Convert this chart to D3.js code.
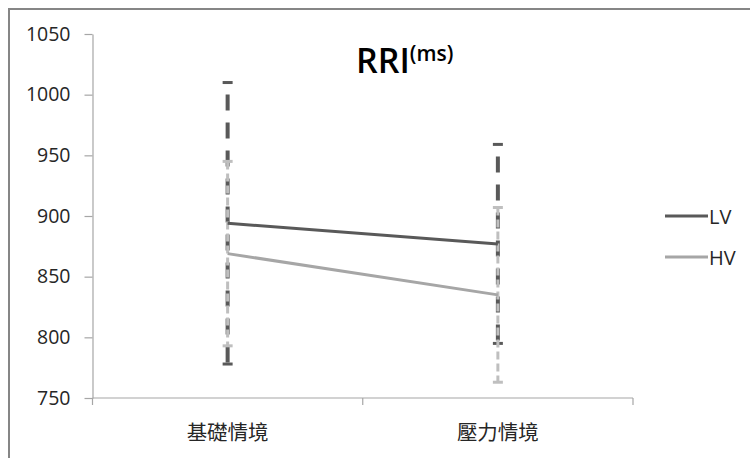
<!DOCTYPE html>
<html><head><meta charset="utf-8">
<script src="https://cdn.jsdelivr.net/npm/d3@7"></script>
<style>body{margin:0;background:#fff;} svg{display:block;}</style>
</head><body>
<svg id="c" width="750" height="458"></svg>
<script>
const categories = ["基礎情境", "壓力情境"];
const seriesNames = ["LV", "HV"];
const lvMeans = [894, 877];
const lvErr = [116, 82];
const hvMeans = [869, 835];
const hvErr = [76, 72];
const yTicks = [750, 800, 850, 900, 950, 1000, 1050];

const svg = d3.select("#c");
const font = "'Open Sans', 'Noto Sans CJK TC', sans-serif";
const plotL = 92.5, plotR = 633, plotT = 34, plotB = 398;

// outer border
svg.append("rect").attr("x", 9).attr("y", 9).attr("width", 760).attr("height", 470)
  .attr("fill", "none").attr("stroke", "#868686").attr("stroke-width", 2);

const x = d3.scaleBand().domain(categories).range([plotL, plotR]);
const y = d3.scaleLinear().domain([750, 1050]).range([plotB, plotT]);

// y axis
const yAxis = svg.append("g").attr("transform", `translate(${plotL},0)`)
  .call(d3.axisLeft(y).tickValues(yTicks).tickFormat(d3.format("d")).tickSize(8).tickPadding(14).tickSizeOuter(0));
yAxis.select(".domain").attr("stroke", "#a6a6a6").attr("stroke-width", 1.2);
yAxis.selectAll(".tick line").attr("stroke", "#a6a6a6").attr("stroke-width", 1.2);
yAxis.selectAll(".tick text").attr("font-family", font).attr("font-size", 19.5).attr("fill", "#262626");

// x axis
const xAxis = svg.append("g").attr("transform", `translate(0,${plotB})`)
  .call(d3.axisBottom(x).tickSize(0).tickPadding(27));
xAxis.select(".domain").remove();
xAxis.append("line").attr("x1", plotL).attr("x2", plotR).attr("y1", 0).attr("y2", 0)
  .attr("stroke", "#a6a6a6").attr("stroke-width", 1.2);
[plotL, plotL + x.step(), plotR].forEach(t => {
  xAxis.append("line").attr("x1", t).attr("x2", t).attr("y1", 0).attr("y2", 7)
    .attr("stroke", "#a6a6a6").attr("stroke-width", 1.2);
});
xAxis.selectAll(".tick text").attr("font-family", font).attr("font-size", 20.5).attr("fill", "#262626");

const cx = c => x(c) + x.bandwidth() / 2;

function errBars(means, errs, color, width, dash, offset) {
  const g = svg.append("g");
  categories.forEach((c, i) => {
    const t = y(means[i] + errs[i]), b = y(means[i] - errs[i]);
    g.append("line").attr("x1", cx(c)).attr("x2", cx(c)).attr("y1", t).attr("y2", b)
      .attr("stroke", color).attr("stroke-width", width)
      .attr("stroke-dasharray", dash).attr("stroke-dashoffset", offset);
    [t, b].forEach(v => g.append("line").attr("x1", cx(c) - 5).attr("x2", cx(c) + 5)
      .attr("y1", v).attr("y2", v).attr("stroke", color).attr("stroke-width", 3));
  });
}
errBars(lvMeans, lvErr, "#595959", 4, "16,12", 16);
errBars(hvMeans, hvErr, "#bfbfbf", 3, "8,4", 0);

const line = d3.line().x((d, i) => cx(categories[i])).y(d => y(d));
svg.append("path").datum(lvMeans).attr("d", line).attr("fill", "none")
  .attr("stroke", "#595959").attr("stroke-width", 3);
svg.append("path").datum(hvMeans).attr("d", line).attr("fill", "none")
  .attr("stroke", "#a6a6a6").attr("stroke-width", 3);

// title
const title = svg.append("text").attr("x", 356).attr("y", 73)
  .attr("font-family", font).attr("font-weight", 600).attr("fill", "#000");
title.append("tspan").attr("font-size", 34).text("RRI");
title.append("tspan").attr("font-size", 21).attr("dy", -12).text("(ms)");

// legend
const legColors = ["#595959", "#a6a6a6"];
seriesNames.forEach((s, i) => {
  const ly = 216 + i * 41;
  svg.append("line").attr("x1", 665).attr("x2", 708).attr("y1", ly).attr("y2", ly)
    .attr("stroke", legColors[i]).attr("stroke-width", 3);
  svg.append("text").attr("x", 709).attr("y", ly + 7.5).attr("font-family", font)
    .attr("font-size", 20).attr("fill", "#262626").text(s);
});
</script>
</body></html>
